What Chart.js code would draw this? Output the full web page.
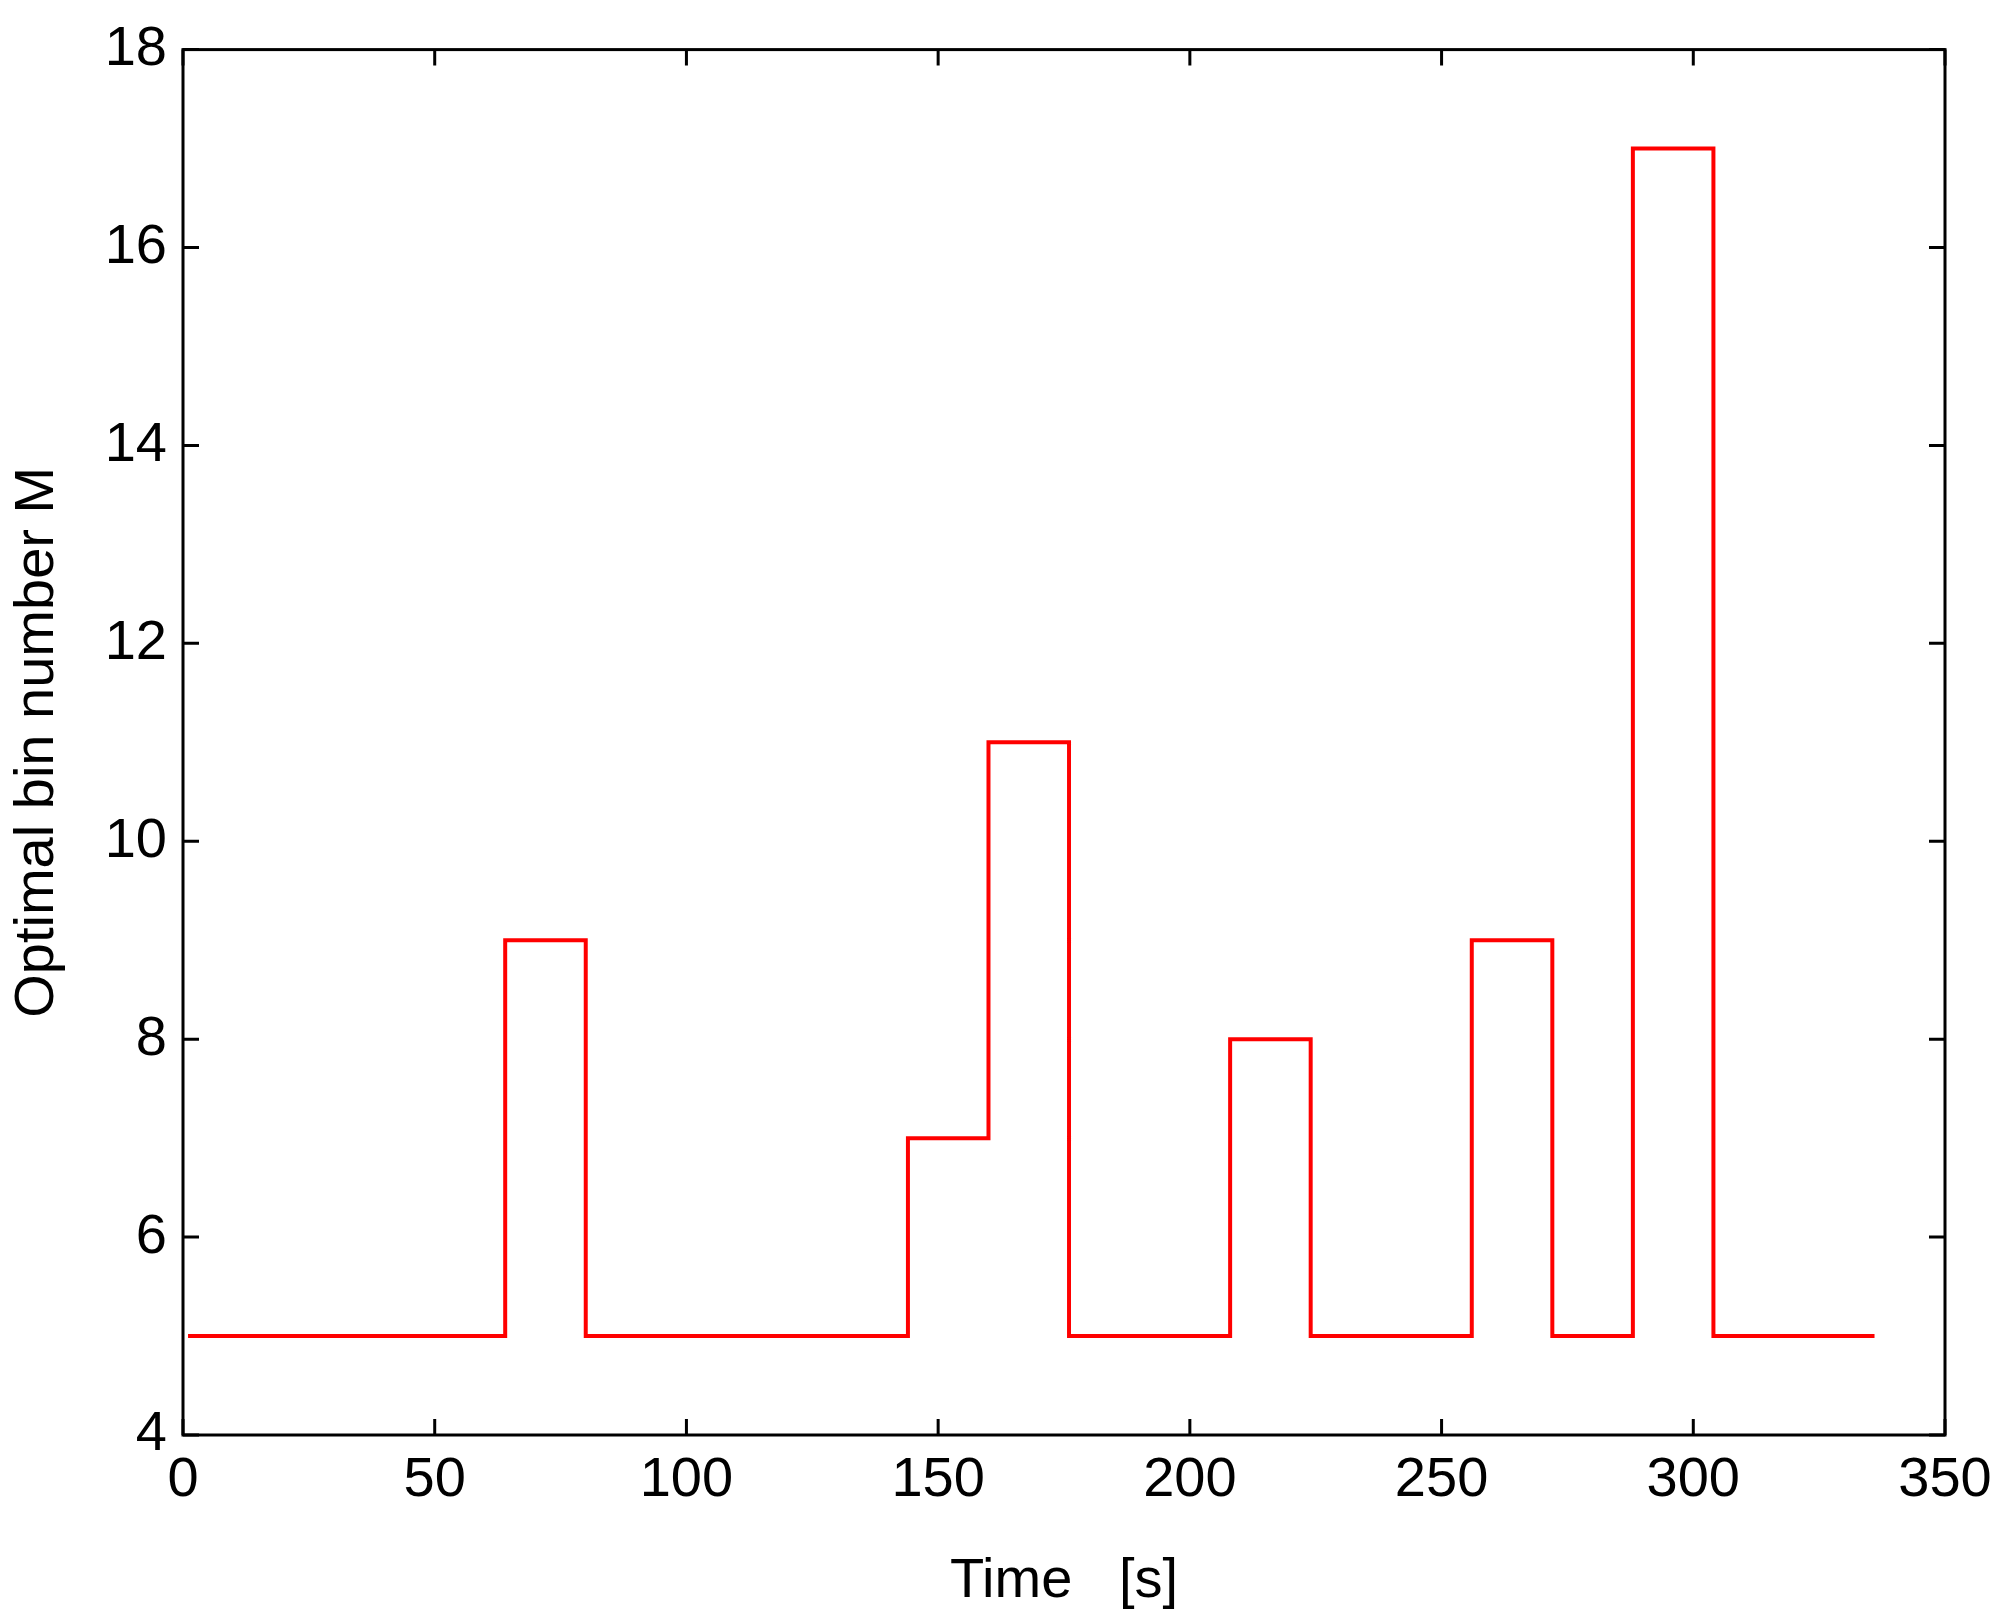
<!DOCTYPE html>
<html>
<head>
<meta charset="utf-8">
<script src="https://cdn.jsdelivr.net/npm/chart.js@4"></script>
<style>
  body { margin: 0; background: #fff; }
  canvas { display: block; }
</style>
</head>
<body>
<canvas id="binChart" width="2015" height="1619"></canvas>
<script>
// step change times [s] and the optimal bin number M from each time on
const times = [1, 64, 80, 144, 160, 176, 208, 224, 256, 272, 288, 304, 336];
const binNumbers = [5, 9, 5, 7, 11, 5, 8, 5, 9, 5, 17, 5, 5];
const xTicks = [0, 50, 100, 150, 200, 250, 300, 350];
const yTicks = [4, 6, 8, 10, 12, 14, 16, 18];

// frame plus inward ticks on all four sides, gnuplot style
const framePlugin = {
    id: 'frame',
    afterDatasetsDraw(chart) {
        const { ctx, chartArea: a, scales } = chart;
        const len = 16;
        ctx.save();
        ctx.strokeStyle = '#000';
        ctx.lineWidth = 3;
        ctx.strokeRect(a.left, a.top, a.right - a.left, a.bottom - a.top);
        ctx.beginPath();
        for (const v of xTicks) {
            const px = scales.x.getPixelForValue(v);
            ctx.moveTo(px, a.bottom); ctx.lineTo(px, a.bottom - len);
            ctx.moveTo(px, a.top); ctx.lineTo(px, a.top + len);
        }
        for (const v of yTicks) {
            const py = scales.y.getPixelForValue(v);
            ctx.moveTo(a.left, py); ctx.lineTo(a.left + len, py);
            ctx.moveTo(a.right, py); ctx.lineTo(a.right - len, py);
        }
        ctx.stroke();
        ctx.restore();
    }
};

const font = { family: '"Liberation Sans", Arial, sans-serif', size: 56 };

new Chart(document.getElementById('binChart'), {
    type: 'line',
    data: {
        datasets: [{
            data: times.map((t, i) => ({ x: t, y: binNumbers[i] })),
            borderColor: '#ff0000',
            borderWidth: 4,
            stepped: 'before',
            pointRadius: 0,
            fill: false
        }]
    },
    options: {
        responsive: false,
        devicePixelRatio: 1,
        animation: false,
        layout: { padding: { top: 48, right: 70 } },
        plugins: { legend: { display: false }, tooltip: { enabled: false } },
        scales: {
            x: {
                type: 'linear',
                min: 0, max: 350,
                afterBuildTicks: s => { s.ticks = xTicks.map(v => ({ value: v })); },
                afterFit: s => { s.height = 184; },
                grid: { display: false, drawTicks: false },
                border: { display: false },
                ticks: { color: '#000', font, padding: 12, maxRotation: 0 },
                title: { display: true, text: 'Time   [s]', color: '#000', font, padding: { top: 0 } }
            },
            y: {
                min: 4, max: 18,
                afterBuildTicks: s => { s.ticks = yTicks.map(v => ({ value: v })); },
                afterFit: s => { s.width = 183; },
                grid: { display: false, drawTicks: false },
                border: { display: false },
                ticks: { color: '#000', font, padding: 16 },
                title: { display: true, text: 'Optimal bin number M', color: '#000', font, padding: { bottom: 14 } }
            }
        }
    },
    plugins: [framePlugin]
});
</script>
</body>
</html>
